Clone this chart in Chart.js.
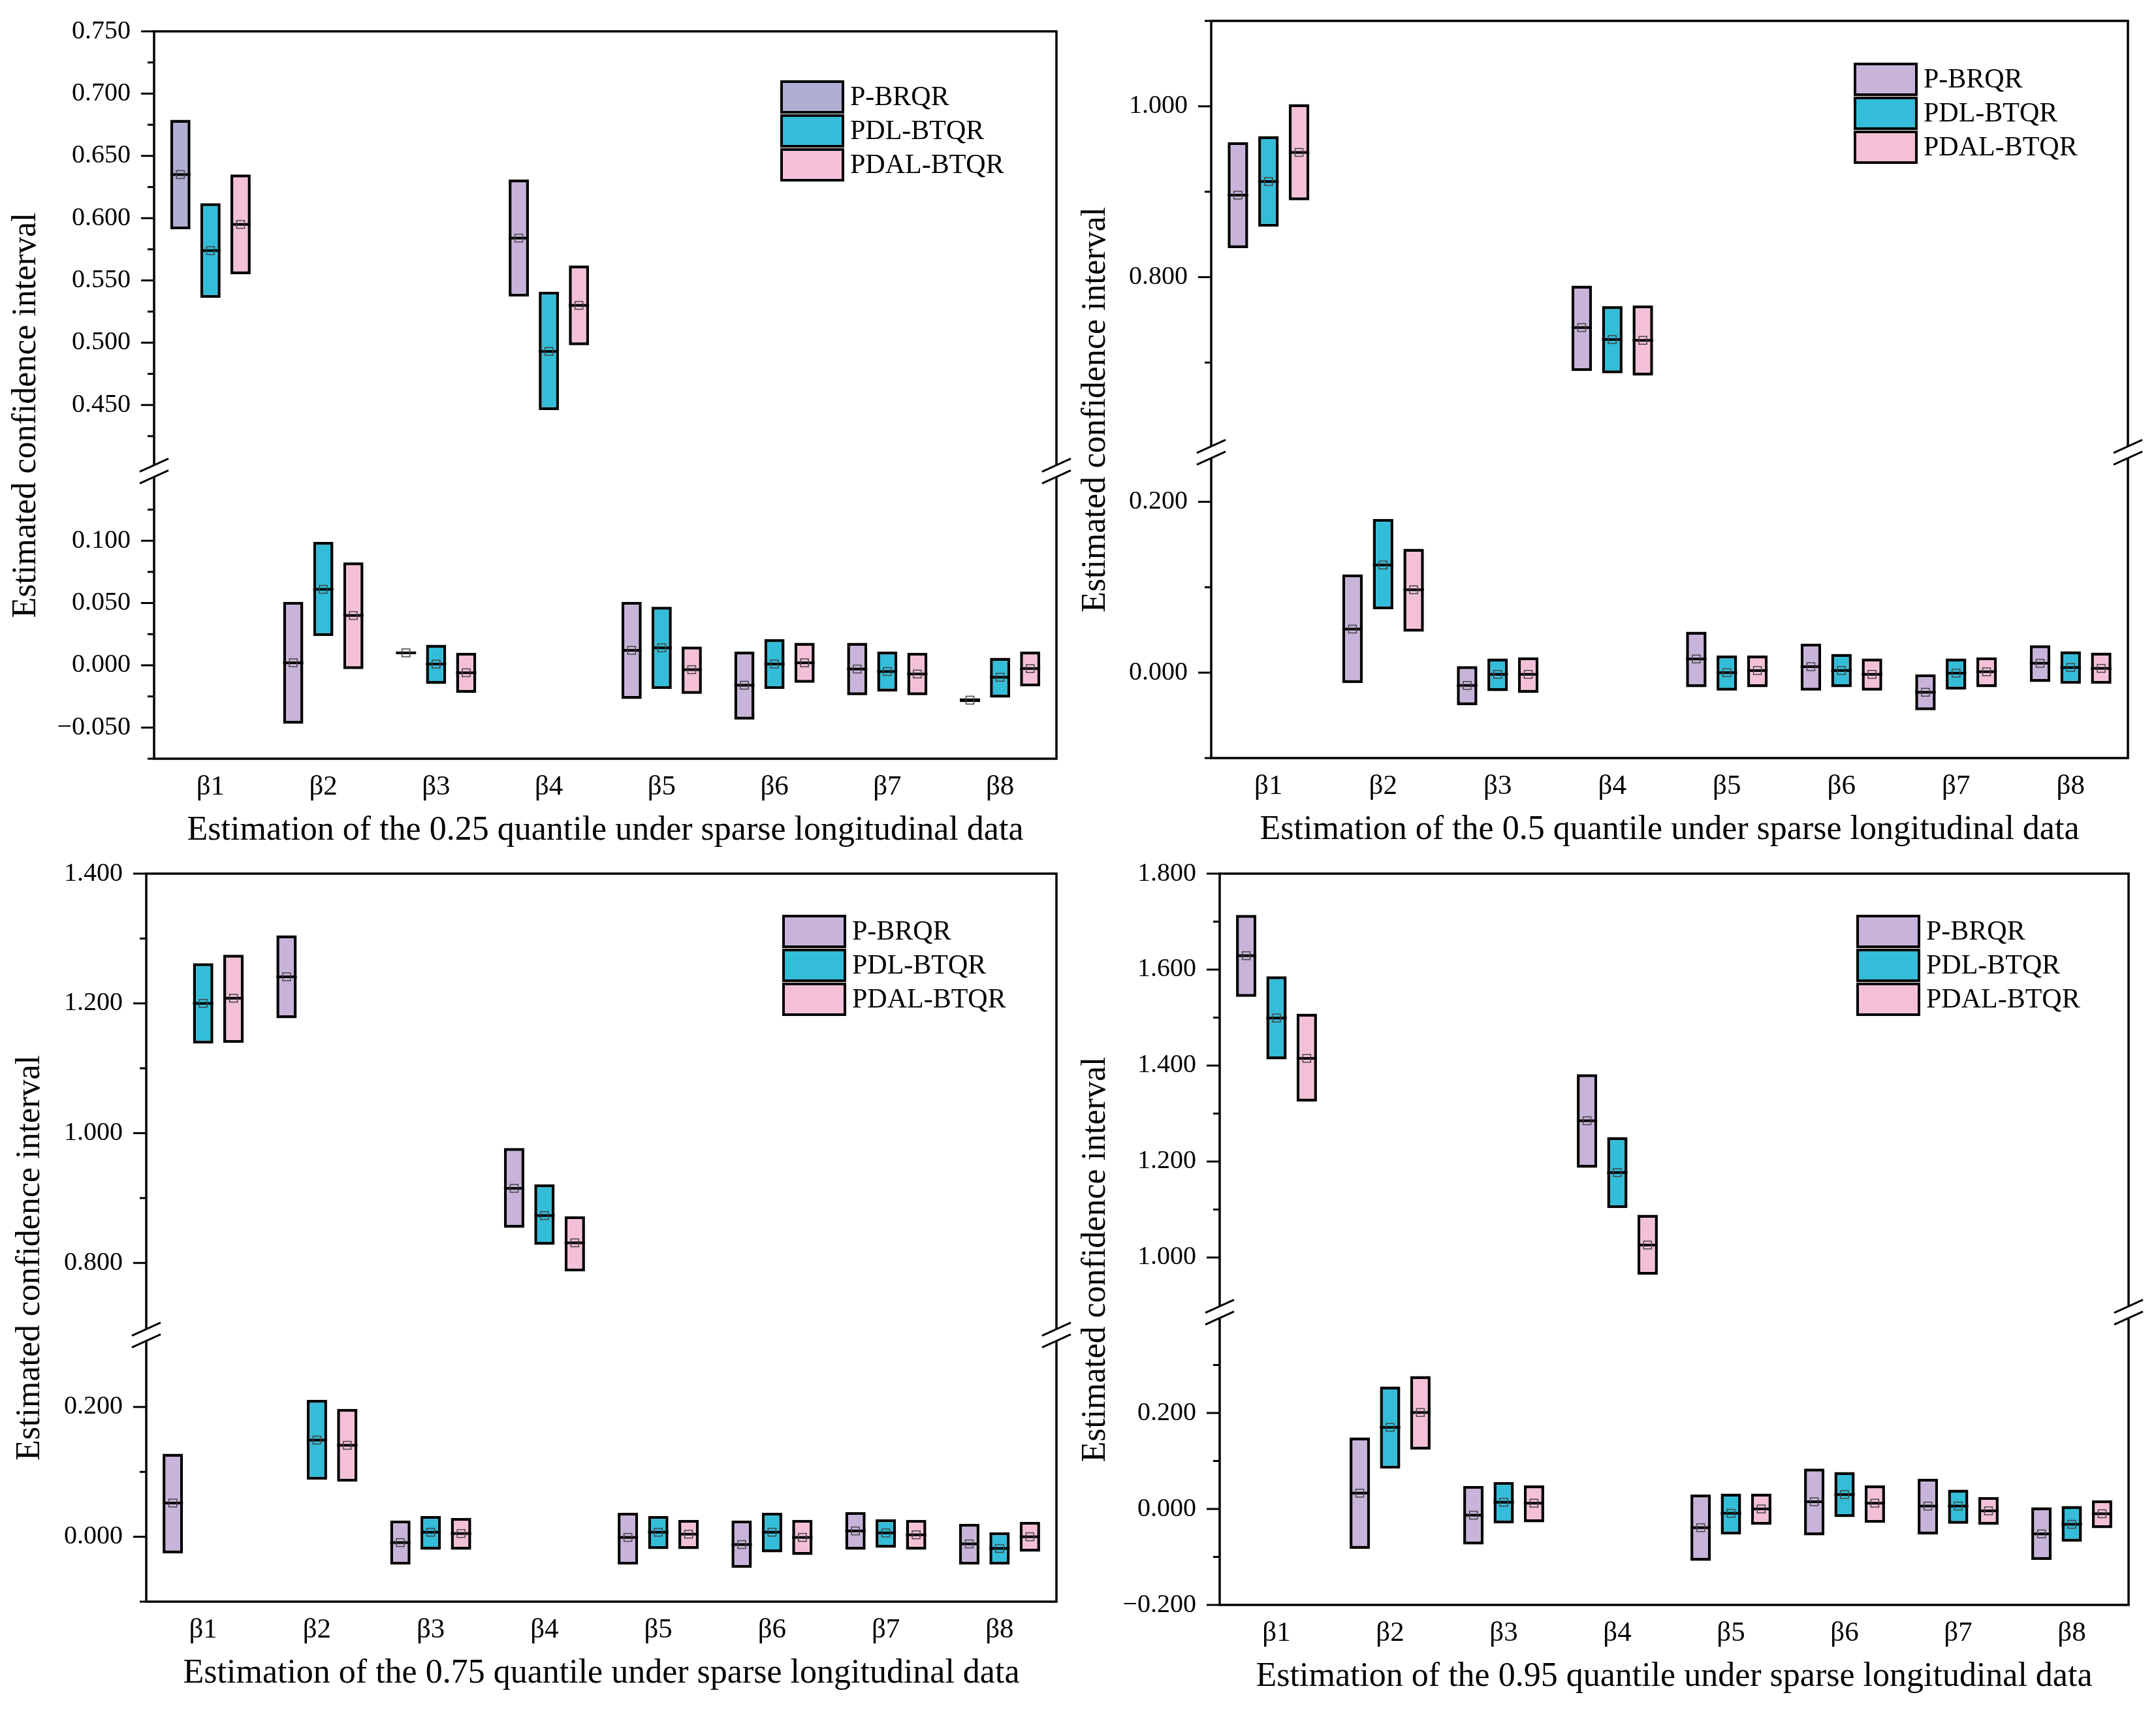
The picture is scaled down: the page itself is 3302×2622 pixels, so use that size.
<!DOCTYPE html>
<html>
<head>
<meta charset="utf-8">
<script src="https://cdn.jsdelivr.net/npm/chart.js@4.4.0/dist/chart.umd.min.js"></script>
<style>
  html, body { margin: 0; padding: 0; background: #fff; }
  #wrap { position: relative; width: 3302px; height: 2622px; background: #fff; }
  .panel { position: absolute; width: 1651px; height: 1311px; }
</style>
</head>
<body>
<div id="wrap">
  <div class="panel" style="left:0;top:0"><canvas id="c1" width="1651" height="1311"></canvas></div>
  <div class="panel" style="left:1651px;top:0"><canvas id="c2" width="1651" height="1311"></canvas></div>
  <div class="panel" style="left:0;top:1311px"><canvas id="c3" width="1651" height="1311"></canvas></div>
  <div class="panel" style="left:1651px;top:1311px"><canvas id="c4" width="1651" height="1311"></canvas></div>
</div>
<script>
// Categories and methods
const categories = ['β1', 'β2', 'β3', 'β4', 'β5', 'β6', 'β7', 'β8'];
const methods = ['P-BRQR', 'PDL-BTQR', 'PDAL-BTQR'];

// Each entry: [lower, upper, median]
// 0.25 quantile
const q25_PBRQR = [[0.591, 0.679, 0.635], [-0.047, 0.051, 0.002], [0.0095, 0.0105, 0.010], [0.537, 0.631, 0.584], [-0.027, 0.051, 0.012], [-0.0435, 0.011, -0.016], [-0.024, 0.018, -0.003], [-0.0295, -0.0265, -0.028]];
const q25_PDL = [[0.536, 0.612, 0.574], [0.0235, 0.099, 0.061], [-0.015, 0.0165, 0.001], [0.446, 0.541, 0.493], [-0.019, 0.047, 0.014], [-0.019, 0.021, 0.001], [-0.021, 0.011, -0.005], [-0.026, 0.006, -0.0096]];
const q25_PDAL = [[0.555, 0.635, 0.595], [-0.003, 0.0826, 0.040], [-0.022, 0.010, -0.006], [0.498, 0.562, 0.530], [-0.023, 0.015, -0.0035], [-0.014, 0.018, 0.002], [-0.024, 0.010, -0.007], [-0.017, 0.011, -0.0026]];
// 0.5 quantile
const q50_PBRQR = [[0.834, 0.958, 0.896], [-0.012, 0.115, 0.051], [-0.038, 0.0076, -0.015], [0.690, 0.790, 0.741], [-0.017, 0.048, 0.016], [-0.021, 0.034, 0.007], [-0.044, -0.002, -0.023], [-0.011, 0.032, 0.011]];
const q50_PDL = [[0.859, 0.965, 0.912], [0.074, 0.180, 0.126], [-0.0216, 0.0165, -0.002], [0.6875, 0.766, 0.727], [-0.021, 0.020, 0.000], [-0.017, 0.022, 0.0025], [-0.0197, 0.0165, -0.0006], [-0.013, 0.025, 0.006]];
const q50_PDAL = [[0.890, 1.0026, 0.946], [0.048, 0.145, 0.097], [-0.0235, 0.018, -0.002], [0.685, 0.767, 0.726], [-0.017, 0.020, 0.0025], [-0.021, 0.0165, -0.002], [-0.017, 0.018, 0.001], [-0.013, 0.0235, 0.005]];
// 0.75 quantile
const q75_PBRQR = [[-0.0255, 0.128, 0.052], [1.177, 1.305, 1.241], [-0.043, 0.025, -0.009], [0.854, 0.977, 0.915], [-0.043, 0.037, -0.001], [-0.048, 0.025, -0.012], [-0.020, 0.038, 0.009], [-0.043, 0.020, -0.011]];
const q75_PDL = [[1.138, 1.262, 1.200], [0.088, 0.211, 0.149], [-0.020, 0.032, 0.007], [0.828, 0.921, 0.873], [-0.019, 0.032, 0.007], [-0.024, 0.037, 0.007], [-0.017, 0.027, 0.006], [-0.043, 0.007, -0.018]];
const q75_PDAL = [[1.139, 1.275, 1.208], [0.085, 0.197, 0.141], [-0.020, 0.029, 0.005], [0.787, 0.872, 0.831], [-0.019, 0.026, 0.004], [-0.028, 0.026, -0.001], [-0.020, 0.026, 0.003], [-0.023, 0.023, 0.000]];
// 0.95 quantile
const q95_PBRQR = [[1.543, 1.714, 1.629], [-0.083, 0.149, 0.033], [-0.074, 0.048, -0.013], [1.187, 1.382, 1.285], [-0.108, 0.030, -0.039], [-0.055, 0.084, 0.015], [-0.053, 0.063, 0.006], [-0.106, 0.0035, -0.052]];
const q95_PDL = [[1.413, 1.586, 1.499], [0.084, 0.255, 0.170], [-0.030, 0.056, 0.014], [1.103, 1.251, 1.177], [-0.053, 0.032, -0.009], [-0.017, 0.077, 0.030], [-0.031, 0.040, 0.006], [-0.068, 0.006, -0.032]];
const q95_PDAL = [[1.325, 1.508, 1.415], [0.124, 0.277, 0.201], [-0.028, 0.049, 0.012], [0.964, 1.089, 1.026], [-0.033, 0.032, 0.000], [-0.029, 0.049, 0.012], [-0.033, 0.025, -0.004], [-0.040, 0.018, -0.010]];

// Broken y axis: ranges of the upper and lower parts, labelled and minor ticks
const q25_topRange = [0.397, 0.75], q25_botRange = [-0.075, 0.156];
const q25_topMajor = [0.45, 0.5, 0.55, 0.6, 0.65, 0.7, 0.75], q25_topMinor = [0.425, 0.475, 0.525, 0.575, 0.625, 0.675, 0.725];
const q25_botMajor = [-0.05, 0, 0.05, 0.1], q25_botMinor = [-0.075, -0.025, 0.025, 0.075, 0.125];

const q50_topRange = [0.595, 1.10], q50_botRange = [-0.1, 0.258];
const q50_topMajor = [0.8, 1.0], q50_topMinor = [0.7, 0.9, 1.1];
const q50_botMajor = [0, 0.2], q50_botMinor = [-0.1, 0.1];

const q75_topRange = [0.689, 1.40], q75_botRange = [-0.1, 0.311];
const q75_topMajor = [0.8, 1.0, 1.2, 1.4], q75_topMinor = [0.9, 1.1, 1.3];
const q75_botMajor = [0, 0.2], q75_botMinor = [-0.1, 0.1];

const q95_topRange = [0.886, 1.80], q95_botRange = [-0.2, 0.41];
const q95_topMajor = [1.0, 1.2, 1.4, 1.6, 1.8], q95_topMinor = [1.1, 1.3, 1.5, 1.7];
const q95_botMajor = [-0.2, 0, 0.2], q95_botMinor = [-0.1, 0.1, 0.3];

const FONT = '"Liberation Serif", "Times New Roman", serif';
const PURPLE = '#C8B4DA', LAVENDER = '#AEADD2', CYAN = '#33BDD8', PINK = '#F4C0D8';

const panels = [
    { id: 'c1', xTitle: 'Estimation of the 0.25 quantile under sparse longitudinal data',
      series: [q25_PBRQR, q25_PDL, q25_PDAL],
      topRange: q25_topRange, botRange: q25_botRange,
      topMajor: q25_topMajor, topMinor: q25_topMinor, botMajor: q25_botMajor, botMinor: q25_botMinor,
      area: { left: 236, top: 48, right: 1618, bottom: 1162 }, yTitleX: 40, legend: { x: 1197, y: 125 },
      pColors: [LAVENDER, PURPLE, PURPLE, PURPLE, PURPLE, PURPLE, PURPLE, PURPLE], pLegend: LAVENDER },
    { id: 'c2', xTitle: 'Estimation of the 0.5 quantile under sparse longitudinal data',
      series: [q50_PBRQR, q50_PDL, q50_PDAL],
      topRange: q50_topRange, botRange: q50_botRange,
      topMajor: q50_topMajor, topMinor: q50_topMinor, botMajor: q50_botMajor, botMinor: q50_botMinor,
      area: { left: 204, top: 32, right: 1608, bottom: 1161 }, yTitleX: 27, legend: { x: 1190, y: 98 },
      pColors: PURPLE, pLegend: PURPLE },
    { id: 'c3', xTitle: 'Estimation of the 0.75 quantile under sparse longitudinal data',
      series: [q75_PBRQR, q75_PDL, q75_PDAL],
      topRange: q75_topRange, botRange: q75_botRange,
      topMajor: q75_topMajor, topMinor: q75_topMinor, botMajor: q75_botMajor, botMinor: q75_botMinor,
      area: { left: 224, top: 27, right: 1618, bottom: 1142 }, yTitleX: 46, legend: { x: 1200, y: 92 },
      pColors: PURPLE, pLegend: PURPLE },
    { id: 'c4', xTitle: 'Estimation of the 0.95 quantile under sparse longitudinal data',
      series: [q95_PBRQR, q95_PDL, q95_PDAL],
      topRange: q95_topRange, botRange: q95_botRange,
      topMajor: q95_topMajor, topMinor: q95_topMinor, botMajor: q95_botMajor, botMinor: q95_botMinor,
      area: { left: 217, top: 27, right: 1609, bottom: 1147 }, yTitleX: 27, legend: { x: 1194, y: 92 },
      pColors: PURPLE, pLegend: PURPLE }
];

function fmt(v) {
    const s = Math.abs(v).toFixed(3);
    return v < -1e-9 ? '\u2212' + s : s;
}

// Frame, ticks, axis break, medians, titles and legend
const decorPlugin = {
    id: 'decor',
    afterDatasetsDraw(chart) {
        const ctx = chart.ctx;
        chart.data.datasets.forEach((ds, di) => {
            const meta = chart.getDatasetMeta(di);
            const yScale = chart.scales[ds.yAxisID];
            meta.data.forEach((el, i) => {
                if (ds.data[i] == null) return;
                const y = yScale.getPixelForValue(ds.medians[i]);
                ctx.save();
                ctx.strokeStyle = '#000';
                ctx.lineWidth = 4;
                ctx.beginPath();
                ctx.moveTo(el.x - el.width / 2, y);
                ctx.lineTo(el.x + el.width / 2, y);
                ctx.stroke();
                ctx.strokeStyle = '#444';
                ctx.lineWidth = 1.5;
                ctx.strokeRect(el.x - 6, y - 6, 12, 12);
                ctx.restore();
            });
        });
    },
    afterDraw(chart) {
        const ctx = chart.ctx;
        const p = chart.options.plugins.decor;
        const { left, right, top, bottom } = chart.chartArea;
        const yT = chart.scales.yTop, yB = chart.scales.yBot;
        const brk = yT.bottom;
        ctx.save();
        ctx.strokeStyle = '#000';
        ctx.lineWidth = 3.5;
        ctx.strokeRect(left, top, right - left, bottom - top);

        // tick marks, outward
        ctx.lineWidth = 3;
        const tick = (scale, vals, len) => vals.forEach(v => {
            const y = scale.getPixelForValue(v);
            ctx.beginPath();
            ctx.moveTo(left - len, y);
            ctx.lineTo(left, y);
            ctx.stroke();
        });
        tick(yT, p.topMajor, 20); tick(yT, p.topMinor, 10);
        tick(yB, p.botMajor, 20); tick(yB, p.botMinor, 10);

        // break marks
        const mark = (x) => {
            ctx.fillStyle = '#fff';
            ctx.beginPath();
            ctx.moveTo(x - 22, brk + 1); ctx.lineTo(x + 22, brk - 19);
            ctx.lineTo(x + 22, brk - 1); ctx.lineTo(x - 22, brk + 19);
            ctx.closePath();
            ctx.fill();
            ctx.strokeStyle = '#000';
            ctx.lineWidth = 3;
            [-9, 9].forEach(o => {
                ctx.beginPath();
                ctx.moveTo(x - 22, brk + o + 10);
                ctx.lineTo(x + 22, brk + o - 10);
                ctx.stroke();
            });
        };
        mark(left); mark(right);

        // titles
        ctx.fillStyle = '#000';
        ctx.font = '52px ' + FONT;
        ctx.textAlign = 'center';
        ctx.textBaseline = 'middle';
        ctx.fillText(p.xTitle, (left + right) / 2, bottom + 110);
        ctx.save();
        ctx.translate(p.yTitleX, (top + bottom) / 2 + 31);
        ctx.rotate(-Math.PI / 2);
        ctx.fillText('Estimated confidence interval', 0, 0);
        ctx.restore();

        // legend
        ctx.font = '42px ' + FONT;
        ctx.textAlign = 'left';
        p.legendColors.forEach((c, k) => {
            const x = p.legend.x, y = p.legend.y + k * 52;
            ctx.fillStyle = c;
            ctx.fillRect(x, y, 94, 47);
            ctx.strokeStyle = '#000';
            ctx.lineWidth = 4;
            ctx.strokeRect(x, y, 94, 47);
            ctx.fillStyle = '#000';
            ctx.fillText(methods[k], x + 105, y + 25);
        });
        ctx.restore();
    }
};

panels.forEach(p => {
    const colors = [p.pColors, CYAN, PINK];
    const datasets = [];
    p.series.forEach((arr, m) => {
        ['yTop', 'yBot'].forEach(axis => {
            const isTop = v => v[0] >= p.topRange[0];
            datasets.push({
                label: methods[m],
                stack: methods[m],
                yAxisID: axis,
                data: arr.map(v => (isTop(v) === (axis === 'yTop')) ? [v[0], v[1]] : null),
                medians: arr.map(v => v[2]),
                backgroundColor: colors[m],
                borderColor: '#000',
                borderWidth: 4.5,
                borderSkipped: false,
                categoryPercentage: 0.8,
                barPercentage: 0.67
            });
        });
    });

    const yCommon = (range, major) => ({
        type: 'linear',
        position: 'left',
        stack: 'v',
        stackWeight: range[1] - range[0],
        min: range[0],
        max: range[1],
        stacked: false,
        grid: { display: false, drawTicks: false },
        border: { display: false },
        afterBuildTicks: s => { s.ticks = major.map(v => ({ value: v })); },
        afterFit: s => {
            s.width = p.area.left;
            s.paddingTop = 0; s.paddingBottom = 0;
        },
        ticks: { autoSkip: false, padding: 36, color: '#000', font: { family: FONT, size: 40 }, callback: v => fmt(v) }
    });

    new Chart(document.getElementById(p.id), {
        type: 'bar',
        data: { labels: categories, datasets },
        options: {
            responsive: false,
            animation: false,
            devicePixelRatio: 1,
            layout: { padding: { left: 0, top: p.area.top, right: 1651 - p.area.right, bottom: 0 } },
            scales: {
                x: {
                    type: 'category',
                    grid: { display: false, drawTicks: false },
                    border: { display: false },
                    afterFit: s => {
                        s.height = 1311 - p.area.bottom;
                        s.paddingLeft = 0; s.paddingRight = 0;
                    },
                    ticks: { padding: 18, color: '#000', font: { family: FONT, size: 43 } }
                },
                yBot: yCommon(p.botRange, p.botMajor),
                yTop: yCommon(p.topRange, p.topMajor)
            },
            plugins: {
                legend: { display: false },
                tooltip: { enabled: false },
                decor: {
                    xTitle: p.xTitle,
                    yTitleX: p.yTitleX,
                    legend: p.legend,
                    legendColors: [p.pLegend, CYAN, PINK],
                    topMajor: p.topMajor, topMinor: p.topMinor,
                    botMajor: p.botMajor, botMinor: p.botMinor
                }
            }
        },
        plugins: [decorPlugin]
    });
});
</script>
</body>
</html>
